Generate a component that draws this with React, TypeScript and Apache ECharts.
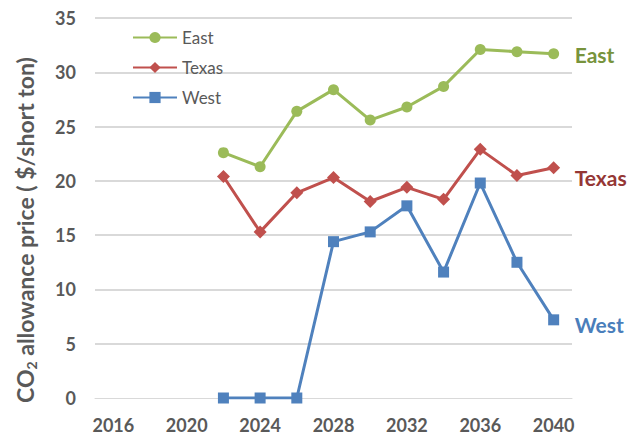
import React, { useEffect, useRef } from "react";
import * as echarts from "echarts";

const years = ["2016", "2018", "2020", "2022", "2024", "2026", "2028", "2030", "2032", "2034", "2036", "2038", "2040"];
const east = [null, null, null, 22.6, 21.3, 26.4, 28.4, 25.6, 26.8, 28.7, 32.1, 31.9, 31.7];
const texas = [null, null, null, 20.4, 15.3, 18.9, 20.3, 18.1, 19.4, 18.3, 22.9, 20.5, 21.2];
const west = [null, null, null, 0, 0, 0, 14.4, 15.3, 17.7, 11.6, 19.8, 12.5, 7.2];

const FONT = "Lato, 'Open Sans', sans-serif";

export default function App() {
  const ref = useRef<HTMLDivElement>(null);
  useEffect(() => {
    const chart = echarts.init(ref.current!, undefined, { renderer: "svg" });
    const mk = (name: string, data: any[], color: string, labelColor: string, symbol: string, size: number, dy: number) => ({
      name,
      type: "line",
      data,
      symbol,
      symbolSize: size,
      showSymbol: true,
      lineStyle: { color, width: 3 },
      itemStyle: { color },
      endLabel: {
        show: true,
        formatter: "{a}",
        color: labelColor,
        fontWeight: "bold",
        fontSize: 21,
        fontFamily: FONT,
        distance: 21,
        offset: [0, dy],
      },
    });
    chart.setOption({
      animation: false,
      backgroundColor: "#ffffff",
      textStyle: { fontFamily: FONT },
      grid: { left: 95, right: 72, top: 18, bottom: 40 },
      legend: {
        orient: "vertical",
        left: 127,
        top: 24,
        itemWidth: 44,
        itemHeight: 14,
        itemGap: 13,
        textStyle: { color: "#595959", fontSize: 17, fontFamily: FONT },
        data: ["East", "Texas", "West"],
      },
      graphic: [
        {
          type: "text",
          x: 25,
          y: 230,
          rotation: Math.PI / 2,
          style: {
            text: "{a|CO}{b|2}{a| allowance price ( $/short ton)}",
            align: "center",
            verticalAlign: "middle",
            rich: {
              a: { fontSize: 23, fontWeight: "bold", fill: "#595959", fontFamily: FONT, lineHeight: 27 },
              b: { fontSize: 14, fontWeight: "bold", fill: "#595959", fontFamily: FONT, verticalAlign: "bottom", lineHeight: 15 },
            },
          },
        },
      ],
      xAxis: {
        type: "category",
        data: years,
        boundaryGap: true,
        axisLine: { show: true, lineStyle: { color: "#d9d9d9", width: 1 } },
        axisTick: { show: false },
        axisLabel: {
          interval: 1,
          color: "#595959",
          fontWeight: "bold",
          fontSize: 18,
          fontFamily: FONT,
          margin: 18,
        },
      },
      yAxis: {
        type: "value",
        min: 0,
        max: 35,
        interval: 5,
        axisLine: { show: false },
        axisTick: { show: false },
        axisLabel: { color: "#595959", fontWeight: "bold", fontSize: 18, fontFamily: FONT, margin: 19 },
        splitLine: { show: true, showMinLine: false, lineStyle: { color: "#d9d9d9", width: 2 } },
      },
      series: [
        mk("East", east, "#9BBB59", "#77933C", "circle", 11, 1),
        mk("Texas", texas, "#C0504D", "#953735", "diamond", 13, 10),
        mk("West", west, "#4F81BD", "#4A7EBB", "rect", 11, 5),
      ],
    });
    return () => chart.dispose();
  }, []);
  return <div ref={ref} style={{ position: "fixed", left: 0, top: 0, width: 644, height: 438 }} />;
}
